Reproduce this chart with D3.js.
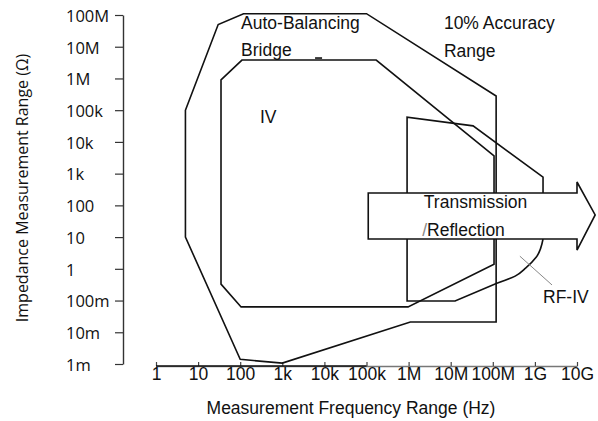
<!DOCTYPE html>
<html>
<head>
<meta charset="utf-8">
<script src="https://cdn.jsdelivr.net/npm/d3@7"></script>
<style>
  body { margin: 0; background: #fff; }
  #impedance-chart svg { display: block; }
  .region { fill: none; stroke: #111; stroke-width: 1.6; stroke-linejoin: miter; }
  .note { font-family: "Liberation Sans", Arial, sans-serif; font-size: 17.5px; fill: #111; }
</style>
</head>
<body>
<div id="impedance-chart"></div>
<script>
// axis ticks
var freqTicks = [1, 10, 100, 1e3, 1e4, 1e5, 1e6, 1e7, 1e8, 1e9, 1e10];
var freqLabels = ["1", "10", "100", "1k", "10k", "100k", "1M", "10M", "100M", "1G", "10G"];
var impTicks = [1e-3, 1e-2, 1e-1, 1, 10, 100, 1e3, 1e4, 1e5, 1e6, 1e7, 1e8];
var impLabels = ["1m", "10m", "100m", "1", "10", "100", "1k", "10k", "100k", "1M", "10M", "100M"];

// measurement regions, [frequency Hz, impedance ohm]
var autoBalancingBridge = [[5, 1e5], [30, 5e7], [120, 1.1e8], [1e5, 1.1e8], [1.2e8, 2.8e5],
    [1.2e8, 0.021], [1.1e6, 0.021], [1e3, 1.07e-3], [100, 1.4e-3], [5, 10]];
var ivRange = [[35, 9e5], [110, 3.8e6], [1.7e5, 3.8e6], [1.07e8, 3.6e3], [1.07e8, 1.4],
    [9.7e5, 0.063], [105, 0.063], [35, 0.33]];
var ivBump = [[6e3, 4.4e6], [8.8e3, 4.4e6]];
var rfIvRange = [[1.25e8, 0.35], [1.27e7, 0.097], [9.2e5, 0.097], [9.2e5, 6e4], [3.4e7, 3.2e4],
    [1.56e9, 780], [1.56e9, 8.7]];
var rfIvCurve = [[1.56e9, 8.7], [1.07e9, 2.3], [6.1e8, 1.07], [3.4e8, 0.59], [1.25e8, 0.35]];
var rfIvPointer = [[4.4e8, 2.5], [2.55e9, 0.31]];
var transmissionArrow = [[1.1e5, 245], [1e10, 245], [1e10, 545], [2.7e10, 50], [1e10, 3.9],
    [1e10, 8.7], [1.1e5, 8.7]];
var darkAxisSpan = [1, 1e5];

// annotations
var noteText = ["Auto-Balancing", "Bridge", "10% Accuracy", "Range", "IV", "Transmission", "RF-IV"];
var noteFreq = [105, 105, 6.9e6, 6.9e6, 295, 2.3e6, 1.56e9];
var noteImp = [3.6e7, 5.1e6, 3.6e7, 4.7e6, 3.9e4, 83, 0.084];
var slashNote = {freq: 2.1e6, imp: 10.8, text: "Reflection"};

/**
 * Constructor for the impedance range chart
 */
function ImpedanceChart(){
    var self = this;
    self.init();
};

/**
 * Sets up the svg and scales
 */
ImpedanceChart.prototype.init = function(){
    var self = this;
    self.svgWidth = 598;
    self.svgHeight = 421;

    self.svg = d3.select("#impedance-chart").append("svg")
        .attr("width", self.svgWidth)
        .attr("height", self.svgHeight);

    self.x = d3.scaleLog().domain([1, 1e10]).range([156, 577]);
    self.y = d3.scaleLog().domain([1e-3, 1e8]).range([364, 15]);

    self.line = d3.line()
        .x(function(d){ return self.x(d[0]); })
        .y(function(d){ return self.y(d[1]); });
};

/**
 * Draws axes, regions and labels
 */
ImpedanceChart.prototype.update = function(){
    var self = this;
    var svg = self.svg;

    //y axis, labels left aligned
    var yAxis = d3.axisLeft(self.y)
        .tickValues(impTicks)
        .tickFormat(function(d, i){ return impLabels[i]; })
        .tickSizeInner(8)
        .tickSizeOuter(0);
    var yg = svg.append("g")
        .attr("transform", "translate(123,0)")
        .call(yAxis);
    yg.select(".domain").attr("stroke", "#333").attr("stroke-width", 1.4);
    yg.selectAll(".tick line").attr("stroke", "#333").attr("stroke-width", 1.2);
    yg.selectAll(".tick text")
        .attr("x", -57)
        .attr("dy", "0.38em")
        .style("text-anchor", "start")
        .style("font-family", "'Open Sans', sans-serif")
        .style("font-size", "16.5px")
        .attr("fill", "#111");

    svg.append("text")
        .attr("transform", "translate(28,188) rotate(-90)")
        .style("text-anchor", "middle")
        .style("font-family", "'Open Sans', sans-serif")
        .style("font-size", "16px")
        .attr("fill", "#111")
        .text("Impedance Measurement Range (Ω)");

    //x axis, ticks point up into the plot
    var xAxis = d3.axisBottom(self.x)
        .tickValues(freqTicks)
        .tickFormat(function(d, i){ return freqLabels[i]; })
        .tickSizeInner(-4)
        .tickSizeOuter(0)
        .tickPadding(2);
    var xg = svg.append("g")
        .attr("transform", "translate(0,366)")
        .call(xAxis);
    xg.select(".domain").attr("stroke", "#777").attr("stroke-width", 1.4);
    xg.selectAll(".tick line").attr("stroke", "#444").attr("stroke-width", 1.2);
    xg.selectAll(".tick text")
        .attr("class", "note")
        .attr("fill", "#111");
    xg.append("line")
        .attr("x1", self.x(darkAxisSpan[0]))
        .attr("x2", self.x(darkAxisSpan[1]))
        .attr("stroke", "#111")
        .attr("stroke-width", 1.6);

    svg.append("text")
        .attr("class", "note")
        .attr("x", 351)
        .attr("y", 414)
        .style("text-anchor", "middle")
        .text("Measurement Frequency Range (Hz)");

    //regions
    [autoBalancingBridge, ivRange, rfIvRange].forEach(function(pts, i){
        svg.append("path")
            .attr("class", "region")
            .attr("d", self.line(pts) + (i < 2 ? "Z" : ""));
    });
    svg.append("path")
        .attr("class", "region")
        .attr("d", self.line.curve(d3.curveMonotoneY)(rfIvCurve));
    self.line.curve(d3.curveLinear);
    svg.append("path")
        .attr("class", "region")
        .attr("stroke-width", 2.6)
        .attr("d", self.line(ivBump));

    //transmission / reflection arrow covers what is under it
    svg.append("path")
        .attr("d", self.line(transmissionArrow) + "Z")
        .attr("fill", "#fff")
        .attr("stroke", "#111")
        .attr("stroke-width", 1.6);

    svg.append("path")
        .attr("d", self.line(rfIvPointer))
        .attr("stroke", "#888")
        .attr("stroke-width", 1)
        .attr("fill", "none");

    svg.selectAll(".annot")
        .data(noteText)
        .enter().append("text")
        .attr("class", "note annot")
        .attr("x", function(d, i){ return self.x(noteFreq[i]); })
        .attr("y", function(d, i){ return self.y(noteImp[i]); })
        .text(function(d){ return d; });

    var refl = svg.append("text")
        .attr("class", "note")
        .attr("x", self.x(slashNote.freq))
        .attr("y", self.y(slashNote.imp));
    refl.append("tspan").attr("fill", "#888").text("/");
    refl.append("tspan").text(slashNote.text);
};

var chart = new ImpedanceChart();
chart.update();
</script>
</body>
</html>
